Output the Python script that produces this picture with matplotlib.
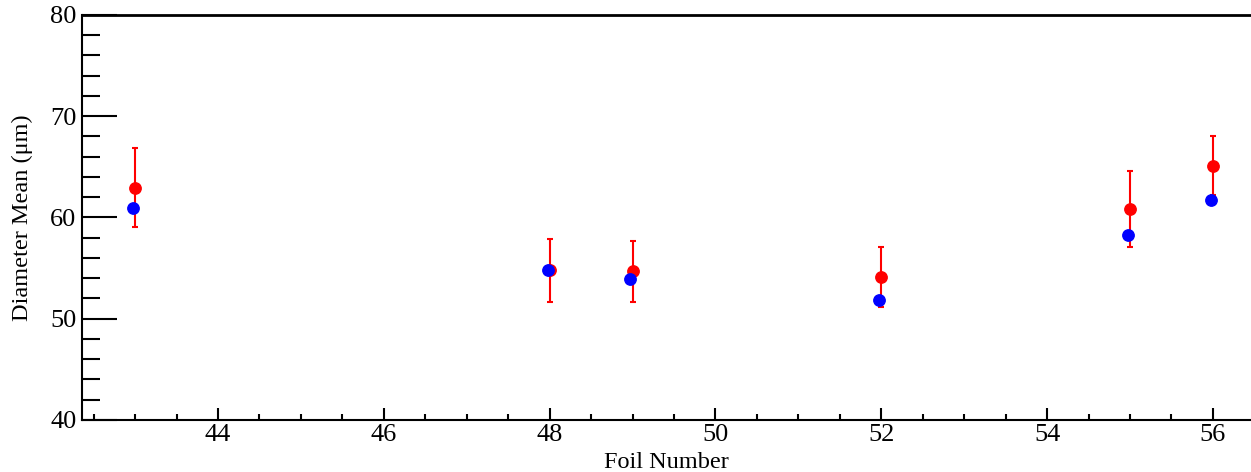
import numpy as np
import matplotlib.pyplot as plt
from matplotlib.ticker import MultipleLocator

plt.rcParams['font.family'] = ['Liberation Serif', 'DejaVu Serif']

# foil numbers and diameter means (um)
foils = [43, 48, 49, 52, 55, 56]
mean_red = [62.95, 54.8, 54.7, 54.15, 60.8, 65.1]
err_red = [3.9, 3.1, 3.0, 2.95, 3.75, 2.9]
mean_blue = [60.95, 54.8, 53.9, 51.9, 58.3, 61.7]
blue_shift = -0.025  # blue points drawn just left of the red ones

fig = plt.figure(figsize=(12.51, 4.72), dpi=100)
ax = fig.add_axes([82/1251, 52/472, 1 - 82/1251, 405/472])

ax.errorbar(foils, mean_red, yerr=err_red, fmt='o', color='#ff0000', ms=8.2,
            elinewidth=1.5, capsize=2.2, capthick=1.5, zorder=2)
ax.plot(np.array(foils) + blue_shift, mean_blue, 'o', color='#0000ff', ms=8.2, zorder=3)

ax.set_xlim(42.36, 56.46)
ax.set_ylim(40, 80)
ax.xaxis.set_major_locator(MultipleLocator(2))
ax.xaxis.set_minor_locator(MultipleLocator(0.5))
ax.yaxis.set_major_locator(MultipleLocator(10))
ax.yaxis.set_minor_locator(MultipleLocator(2))

ax.tick_params(axis='x', which='major', direction='in', length=9, width=1.5, labelsize=19, pad=3)
ax.tick_params(axis='x', which='minor', direction='in', length=4.5, width=1.5)
ax.tick_params(axis='y', which='major', direction='in', length=25, width=1.5, labelsize=19, pad=4)
ax.tick_params(axis='y', which='minor', direction='in', length=13, width=1.5)

ax.spines['right'].set_visible(False)
for side in ['left', 'bottom']:
    ax.spines[side].set_linewidth(1.5)
ax.spines['top'].set_linewidth(2)

ax.set_xlabel('Foil Number', fontsize=17.5, labelpad=4)
ax.set_ylabel('Diameter Mean (μm)', fontsize=17.5, labelpad=12)

fig.savefig('out.png', dpi=100)
